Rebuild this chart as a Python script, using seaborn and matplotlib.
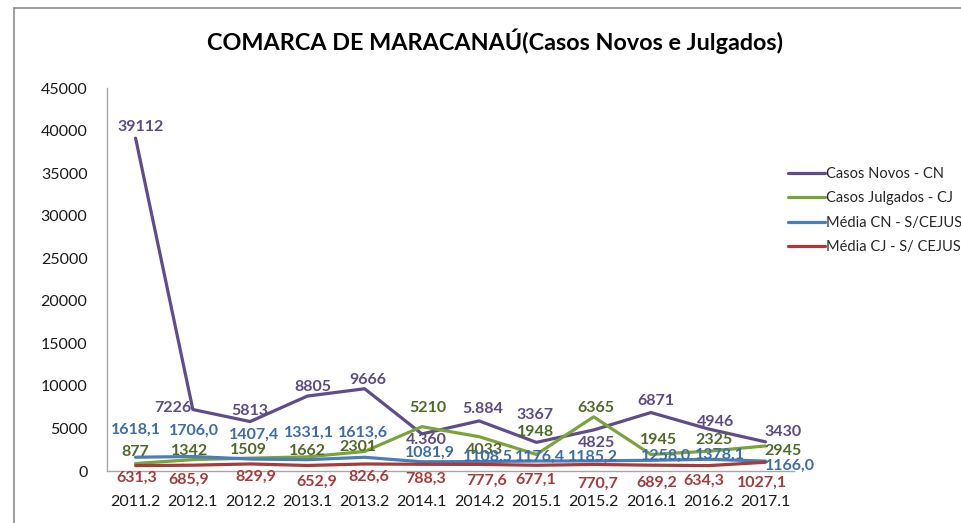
import pandas as pd
import matplotlib
matplotlib.use("Agg")
import matplotlib.pyplot as plt
from matplotlib.lines import Line2D
import seaborn as sns

# Chart data
periods = ["2011.2", "2012.1", "2012.2", "2013.1", "2013.2", "2014.1",
           "2014.2", "2015.1", "2015.2", "2016.1", "2016.2", "2017.1"]
casos_novos = [39112, 7226, 5813, 8805, 9666, 4360, 5884, 3367, 4825, 6871, 4946, 3430]
casos_julgados = [877, 1342, 1509, 1662, 2301, 5210, 4033, 1948, 6365, 1945, 2325, 2945]
media_cn = [1618.1, 1706.0, 1407.4, 1331.1, 1613.6, 1081.9, 1108.5, 1176.4,
            1185.2, 1258.0, 1378.1, 1166.0]
media_cj = [631.3, 685.9, 829.9, 652.9, 826.6, 788.3, 777.6, 677.1,
            770.7, 689.2, 634.3, 1027.1]
series_names = ["Casos Novos - CN", "Casos Julgados - CJ",
                "Média CN - S/CEJUSC", "Média CJ - S/ CEJUSC"]
cn_labels = ["39112", "7226", "5813", "8805", "9666", "4.360", "5.884",
             "3367", "4825", "6871", "4946", "3430"]
y_ticks = list(range(0, 45001, 5000))

line_colors = ["#604C8C", "#7AA33A", "#4A7EBB", "#A83A3A"]
label_colors = ["#5C4A85", "#4F6A28", "#3C6DA8", "#A33B3B"]

# label offsets in pixels (dx, dy upward positive)
offsets = [
    [(5, 11), (-20, 2), (0, 11), (6, 9), (3, 9), (4, -6), (4, 12), (-1, 27),
     (3, -13), (5, 12), (7, 7), (18, 10)],
    [(0, 12), (-3, 9), (-2, 8), (0, 6), (-7, 4), (6, 19), (5, -13), (-1, 22),
     (2, 9), (8, 14), (6, 11), (18, -5)],
    [(0, 27), (1, 26), (4, 24), (2, 27), (-2, 24), (8, 9), (9, 5), (4, 4),
     (-1, 4), (15, 5), (12, 4), (25, -5)],
    [(1, -12), (-4, -15), (6, -13), (9, -16), (4, -13), (4, -14), (7, -16),
     (-1, -15), (4, -19), (6, -18), (-4, -15), (-3, -21)],
]

df = pd.DataFrame({
    "periodo": periods * 4,
    "valor": casos_novos + casos_julgados + media_cn + media_cj,
    "serie": sum([[n] * len(periods) for n in series_names], []),
})

sns.set_theme(style="white")
plt.rcParams["font.family"] = ["Lato", "DejaVu Sans"]

fig = plt.figure(figsize=(9.61, 5.23), dpi=100)
ax = fig.add_axes([0.1113, 0.0994, 0.7150, 0.7323])

sns.lineplot(data=df, x="periodo", y="valor", hue="serie", hue_order=series_names,
             palette=line_colors, linewidth=2.3, sort=False, legend=False, ax=ax)

ax.set_xlim(-0.5, len(periods) - 0.5)
ax.set_ylim(0, 45000)
ax.set_yticks(y_ticks)
ax.set_yticklabels([str(t) for t in y_ticks])
ax.set_xlabel("")
ax.set_ylabel("")
ax.tick_params(axis="both", length=0, labelsize=11.5, colors="#1a1a1a")
ax.tick_params(axis="y", pad=14)
ax.tick_params(axis="x", pad=17)
for side in ["top", "right"]:
    ax.spines[side].set_visible(False)
for side in ["left", "bottom"]:
    ax.spines[side].set_color("#a6a6a6")
    ax.spines[side].set_linewidth(1.0)

# data labels
all_vals = [casos_novos, casos_julgados, media_cn, media_cj]
for s, vals in enumerate(all_vals):
    for i, v in enumerate(vals):
        if s == 0:
            txt = cn_labels[i]
        elif s >= 2:
            txt = f"{v:.1f}".replace(".", ",")
        else:
            txt = str(v)
        dx, dy = offsets[s][i]
        ax.annotate(txt, (i, v), xytext=(dx, dy), textcoords="offset pixels",
                    ha="center", va="center", fontsize=11.5, fontweight="bold",
                    color=label_colors[s], annotation_clip=False)

fig.suptitle("COMARCA DE MARACANAÚ(Casos Novos e Julgados)", x=0.515, y=0.945,
             fontsize=16.8, fontweight="bold", color="#000000")

handles = [Line2D([0], [0], color=c, lw=2.3) for c in line_colors]
fig.legend(handles, series_names, loc="upper left", bbox_to_anchor=(0.814, 0.692),
           frameon=False, fontsize=10.5, handlelength=2.5, handletextpad=0.1,
           labelspacing=0.72, borderaxespad=0)

# outer chart frame (left and top edges visible)
fig.add_artist(Line2D([14 / 961, 14 / 961], [0, 1 - 8 / 523], color="#8c8c8c", lw=1.2))
fig.add_artist(Line2D([14 / 961, 1], [1 - 8 / 523, 1 - 8 / 523], color="#8c8c8c", lw=1.2))

fig.savefig("out.png", dpi=100)
